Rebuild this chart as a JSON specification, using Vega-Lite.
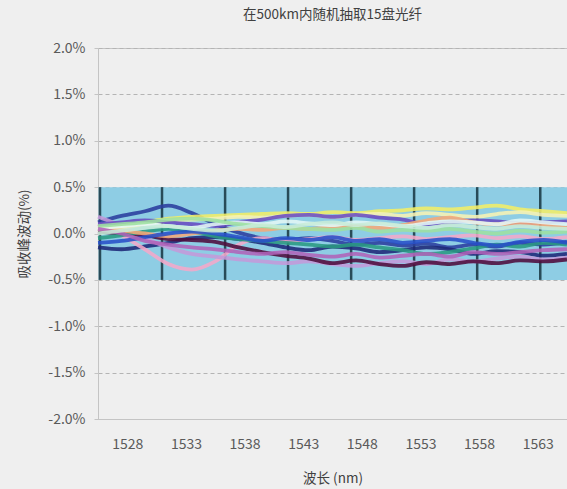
{
  "$schema": "https://vega.github.io/schema/vega-lite/v6.json",
  "autosize": "none",
  "padding": {"left": 98, "top": 48, "right": 0, "bottom": 70},
  "width": 469,
  "height": 371,
  "background": "#efefef",
  "title": {"text": "在500km内随机抽取15盘光纤", "fontSize": 13.5, "font": "Noto Sans CJK SC", "fontWeight": "normal", "color": "#404040", "anchor": "middle", "offset": 20},
  "config": {
    "font": "Noto Sans CJK SC",
    "view": {"stroke": "#c4c4c4", "strokeWidth": 1},
    "axis": {"labelFont": "Noto Sans CJK SC", "titleFont": "Noto Sans CJK SC", "labelColor": "#5a5a5a", "titleColor": "#404040", "labelFontSize": 14, "titleFontSize": 13.5, "titleFontWeight": "normal", "domainColor": "#c4c4c4", "tickColor": "#c4c4c4"}
  },
  "datasets": {
    "fibers": [
      {"s":"S1","x":1525.5,"y":0.12},{"s":"S1","x":1527.5,"y":0.19},{"s":"S1","x":1529.5,"y":0.24},{"s":"S1","x":1531.5,"y":0.30},{"s":"S1","x":1533.5,"y":0.22},{"s":"S1","x":1535.5,"y":0.10},{"s":"S1","x":1537.5,"y":0.01},{"s":"S1","x":1539.5,"y":-0.05},{"s":"S1","x":1541.5,"y":-0.07},{"s":"S1","x":1543.5,"y":-0.05},{"s":"S1","x":1545.5,"y":-0.08},{"s":"S1","x":1547.5,"y":-0.12},{"s":"S1","x":1549.5,"y":-0.10},{"s":"S1","x":1551.5,"y":-0.13},{"s":"S1","x":1553.5,"y":-0.11},{"s":"S1","x":1555.5,"y":-0.15},{"s":"S1","x":1557.5,"y":-0.12},{"s":"S1","x":1559.5,"y":-0.14},{"s":"S1","x":1561.5,"y":-0.10},{"s":"S1","x":1563.5,"y":-0.12},{"s":"S1","x":1565.5,"y":-0.09},
      {"s":"S2","x":1525.5,"y":-0.15},{"s":"S2","x":1527.5,"y":-0.17},{"s":"S2","x":1529.5,"y":-0.14},{"s":"S2","x":1531.5,"y":-0.10},{"s":"S2","x":1533.5,"y":-0.05},{"s":"S2","x":1535.5,"y":-0.04},{"s":"S2","x":1537.5,"y":-0.06},{"s":"S2","x":1539.5,"y":-0.10},{"s":"S2","x":1541.5,"y":-0.15},{"s":"S2","x":1543.5,"y":-0.18},{"s":"S2","x":1545.5,"y":-0.14},{"s":"S2","x":1547.5,"y":-0.16},{"s":"S2","x":1549.5,"y":-0.20},{"s":"S2","x":1551.5,"y":-0.18},{"s":"S2","x":1553.5,"y":-0.15},{"s":"S2","x":1555.5,"y":-0.17},{"s":"S2","x":1557.5,"y":-0.22},{"s":"S2","x":1559.5,"y":-0.19},{"s":"S2","x":1561.5,"y":-0.20},{"s":"S2","x":1563.5,"y":-0.24},{"s":"S2","x":1565.5,"y":-0.22},
      {"s":"S3","x":1525.5,"y":0.10},{"s":"S3","x":1527.5,"y":-0.02},{"s":"S3","x":1529.5,"y":-0.17},{"s":"S3","x":1531.5,"y":-0.33},{"s":"S3","x":1533.5,"y":-0.39},{"s":"S3","x":1535.5,"y":-0.30},{"s":"S3","x":1537.5,"y":-0.12},{"s":"S3","x":1539.5,"y":-0.05},{"s":"S3","x":1541.5,"y":-0.08},{"s":"S3","x":1543.5,"y":-0.06},{"s":"S3","x":1545.5,"y":-0.04},{"s":"S3","x":1547.5,"y":-0.07},{"s":"S3","x":1549.5,"y":-0.05},{"s":"S3","x":1551.5,"y":-0.03},{"s":"S3","x":1553.5,"y":-0.06},{"s":"S3","x":1555.5,"y":-0.04},{"s":"S3","x":1557.5,"y":-0.02},{"s":"S3","x":1559.5,"y":-0.05},{"s":"S3","x":1561.5,"y":-0.03},{"s":"S3","x":1563.5,"y":-0.06},{"s":"S3","x":1565.5,"y":-0.04},
      {"s":"S4","x":1525.5,"y":0.18},{"s":"S4","x":1527.5,"y":0.08},{"s":"S4","x":1529.5,"y":-0.05},{"s":"S4","x":1531.5,"y":-0.15},{"s":"S4","x":1533.5,"y":-0.22},{"s":"S4","x":1535.5,"y":-0.25},{"s":"S4","x":1537.5,"y":-0.28},{"s":"S4","x":1539.5,"y":-0.30},{"s":"S4","x":1541.5,"y":-0.32},{"s":"S4","x":1543.5,"y":-0.30},{"s":"S4","x":1545.5,"y":-0.33},{"s":"S4","x":1547.5,"y":-0.35},{"s":"S4","x":1549.5,"y":-0.32},{"s":"S4","x":1551.5,"y":-0.30},{"s":"S4","x":1553.5,"y":-0.33},{"s":"S4","x":1555.5,"y":-0.28},{"s":"S4","x":1557.5,"y":-0.30},{"s":"S4","x":1559.5,"y":-0.27},{"s":"S4","x":1561.5,"y":-0.25},{"s":"S4","x":1563.5,"y":-0.28},{"s":"S4","x":1565.5,"y":-0.26},
      {"s":"S5","x":1525.5,"y":0.05},{"s":"S5","x":1527.5,"y":0.08},{"s":"S5","x":1529.5,"y":0.12},{"s":"S5","x":1531.5,"y":0.16},{"s":"S5","x":1533.5,"y":0.18},{"s":"S5","x":1535.5,"y":0.19},{"s":"S5","x":1537.5,"y":0.20},{"s":"S5","x":1539.5,"y":0.21},{"s":"S5","x":1541.5,"y":0.22},{"s":"S5","x":1543.5,"y":0.21},{"s":"S5","x":1545.5,"y":0.23},{"s":"S5","x":1547.5,"y":0.22},{"s":"S5","x":1549.5,"y":0.24},{"s":"S5","x":1551.5,"y":0.25},{"s":"S5","x":1553.5,"y":0.27},{"s":"S5","x":1555.5,"y":0.26},{"s":"S5","x":1557.5,"y":0.28},{"s":"S5","x":1559.5,"y":0.30},{"s":"S5","x":1561.5,"y":0.26},{"s":"S5","x":1563.5,"y":0.24},{"s":"S5","x":1565.5,"y":0.22},
      {"s":"S6","x":1525.5,"y":0.02},{"s":"S6","x":1527.5,"y":0.06},{"s":"S6","x":1529.5,"y":0.10},{"s":"S6","x":1531.5,"y":0.14},{"s":"S6","x":1533.5,"y":0.15},{"s":"S6","x":1535.5,"y":0.16},{"s":"S6","x":1537.5,"y":0.18},{"s":"S6","x":1539.5,"y":0.17},{"s":"S6","x":1541.5,"y":0.19},{"s":"S6","x":1543.5,"y":0.20},{"s":"S6","x":1545.5,"y":0.18},{"s":"S6","x":1547.5,"y":0.20},{"s":"S6","x":1549.5,"y":0.21},{"s":"S6","x":1551.5,"y":0.19},{"s":"S6","x":1553.5,"y":0.22},{"s":"S6","x":1555.5,"y":0.20},{"s":"S6","x":1557.5,"y":0.18},{"s":"S6","x":1559.5,"y":0.21},{"s":"S6","x":1561.5,"y":0.23},{"s":"S6","x":1563.5,"y":0.20},{"s":"S6","x":1565.5,"y":0.19},
      {"s":"S7","x":1525.5,"y":0.02},{"s":"S7","x":1527.5,"y":0.00},{"s":"S7","x":1529.5,"y":-0.02},{"s":"S7","x":1531.5,"y":-0.06},{"s":"S7","x":1533.5,"y":-0.07},{"s":"S7","x":1535.5,"y":-0.09},{"s":"S7","x":1537.5,"y":-0.15},{"s":"S7","x":1539.5,"y":-0.20},{"s":"S7","x":1541.5,"y":-0.24},{"s":"S7","x":1543.5,"y":-0.27},{"s":"S7","x":1545.5,"y":-0.32},{"s":"S7","x":1547.5,"y":-0.29},{"s":"S7","x":1549.5,"y":-0.33},{"s":"S7","x":1551.5,"y":-0.35},{"s":"S7","x":1553.5,"y":-0.31},{"s":"S7","x":1555.5,"y":-0.33},{"s":"S7","x":1557.5,"y":-0.30},{"s":"S7","x":1559.5,"y":-0.32},{"s":"S7","x":1561.5,"y":-0.29},{"s":"S7","x":1563.5,"y":-0.30},{"s":"S7","x":1565.5,"y":-0.28},
      {"s":"S8","x":1525.5,"y":-0.05},{"s":"S8","x":1527.5,"y":-0.02},{"s":"S8","x":1529.5,"y":0.02},{"s":"S8","x":1531.5,"y":0.05},{"s":"S8","x":1533.5,"y":0.02},{"s":"S8","x":1535.5,"y":-0.03},{"s":"S8","x":1537.5,"y":-0.06},{"s":"S8","x":1539.5,"y":-0.08},{"s":"S8","x":1541.5,"y":-0.10},{"s":"S8","x":1543.5,"y":-0.12},{"s":"S8","x":1545.5,"y":-0.14},{"s":"S8","x":1547.5,"y":-0.12},{"s":"S8","x":1549.5,"y":-0.15},{"s":"S8","x":1551.5,"y":-0.18},{"s":"S8","x":1553.5,"y":-0.22},{"s":"S8","x":1555.5,"y":-0.20},{"s":"S8","x":1557.5,"y":-0.16},{"s":"S8","x":1559.5,"y":-0.12},{"s":"S8","x":1561.5,"y":-0.14},{"s":"S8","x":1563.5,"y":-0.10},{"s":"S8","x":1565.5,"y":-0.12},
      {"s":"S9","x":1525.5,"y":0.10},{"s":"S9","x":1527.5,"y":0.12},{"s":"S9","x":1529.5,"y":0.14},{"s":"S9","x":1531.5,"y":0.12},{"s":"S9","x":1533.5,"y":0.10},{"s":"S9","x":1535.5,"y":0.08},{"s":"S9","x":1537.5,"y":0.12},{"s":"S9","x":1539.5,"y":0.15},{"s":"S9","x":1541.5,"y":0.19},{"s":"S9","x":1543.5,"y":0.20},{"s":"S9","x":1545.5,"y":0.18},{"s":"S9","x":1547.5,"y":0.20},{"s":"S9","x":1549.5,"y":0.17},{"s":"S9","x":1551.5,"y":0.15},{"s":"S9","x":1553.5,"y":0.10},{"s":"S9","x":1555.5,"y":0.12},{"s":"S9","x":1557.5,"y":0.14},{"s":"S9","x":1559.5,"y":0.13},{"s":"S9","x":1561.5,"y":0.11},{"s":"S9","x":1563.5,"y":0.12},{"s":"S9","x":1565.5,"y":0.13},
      {"s":"S10","x":1525.5,"y":0.05},{"s":"S10","x":1527.5,"y":0.03},{"s":"S10","x":1529.5,"y":0.00},{"s":"S10","x":1531.5,"y":-0.03},{"s":"S10","x":1533.5,"y":0.00},{"s":"S10","x":1535.5,"y":0.03},{"s":"S10","x":1537.5,"y":0.05},{"s":"S10","x":1539.5,"y":0.04},{"s":"S10","x":1541.5,"y":0.06},{"s":"S10","x":1543.5,"y":0.05},{"s":"S10","x":1545.5,"y":0.07},{"s":"S10","x":1547.5,"y":0.08},{"s":"S10","x":1549.5,"y":0.06},{"s":"S10","x":1551.5,"y":0.09},{"s":"S10","x":1553.5,"y":0.14},{"s":"S10","x":1555.5,"y":0.17},{"s":"S10","x":1557.5,"y":0.12},{"s":"S10","x":1559.5,"y":0.10},{"s":"S10","x":1561.5,"y":0.11},{"s":"S10","x":1563.5,"y":0.09},{"s":"S10","x":1565.5,"y":0.06},
      {"s":"S11","x":1525.5,"y":0.05},{"s":"S11","x":1527.5,"y":0.08},{"s":"S11","x":1529.5,"y":0.10},{"s":"S11","x":1531.5,"y":0.08},{"s":"S11","x":1533.5,"y":0.06},{"s":"S11","x":1535.5,"y":0.10},{"s":"S11","x":1537.5,"y":0.12},{"s":"S11","x":1539.5,"y":0.10},{"s":"S11","x":1541.5,"y":0.13},{"s":"S11","x":1543.5,"y":0.11},{"s":"S11","x":1545.5,"y":0.09},{"s":"S11","x":1547.5,"y":0.12},{"s":"S11","x":1549.5,"y":0.10},{"s":"S11","x":1551.5,"y":0.08},{"s":"S11","x":1553.5,"y":0.11},{"s":"S11","x":1555.5,"y":0.13},{"s":"S11","x":1557.5,"y":0.12},{"s":"S11","x":1559.5,"y":0.10},{"s":"S11","x":1561.5,"y":0.14},{"s":"S11","x":1563.5,"y":0.12},{"s":"S11","x":1565.5,"y":0.10},
      {"s":"S12","x":1525.5,"y":-0.10},{"s":"S12","x":1527.5,"y":-0.08},{"s":"S12","x":1529.5,"y":-0.04},{"s":"S12","x":1531.5,"y":0.00},{"s":"S12","x":1533.5,"y":0.02},{"s":"S12","x":1535.5,"y":0.00},{"s":"S12","x":1537.5,"y":-0.04},{"s":"S12","x":1539.5,"y":-0.08},{"s":"S12","x":1541.5,"y":-0.05},{"s":"S12","x":1543.5,"y":-0.07},{"s":"S12","x":1545.5,"y":-0.04},{"s":"S12","x":1547.5,"y":-0.08},{"s":"S12","x":1549.5,"y":-0.06},{"s":"S12","x":1551.5,"y":-0.10},{"s":"S12","x":1553.5,"y":-0.08},{"s":"S12","x":1555.5,"y":-0.06},{"s":"S12","x":1557.5,"y":-0.10},{"s":"S12","x":1559.5,"y":-0.13},{"s":"S12","x":1561.5,"y":-0.09},{"s":"S12","x":1563.5,"y":-0.07},{"s":"S12","x":1565.5,"y":-0.10},
      {"s":"S13","x":1525.5,"y":0.08},{"s":"S13","x":1527.5,"y":0.10},{"s":"S13","x":1529.5,"y":0.12},{"s":"S13","x":1531.5,"y":0.15},{"s":"S13","x":1533.5,"y":0.16},{"s":"S13","x":1535.5,"y":0.14},{"s":"S13","x":1537.5,"y":0.10},{"s":"S13","x":1539.5,"y":0.08},{"s":"S13","x":1541.5,"y":0.06},{"s":"S13","x":1543.5,"y":0.05},{"s":"S13","x":1545.5,"y":0.04},{"s":"S13","x":1547.5,"y":0.06},{"s":"S13","x":1549.5,"y":0.02},{"s":"S13","x":1551.5,"y":0.04},{"s":"S13","x":1553.5,"y":0.03},{"s":"S13","x":1555.5,"y":0.05},{"s":"S13","x":1557.5,"y":0.02},{"s":"S13","x":1559.5,"y":0.00},{"s":"S13","x":1561.5,"y":0.03},{"s":"S13","x":1563.5,"y":0.01},{"s":"S13","x":1565.5,"y":0.02},
      {"s":"S14","x":1525.5,"y":0.05},{"s":"S14","x":1527.5,"y":0.00},{"s":"S14","x":1529.5,"y":-0.08},{"s":"S14","x":1531.5,"y":-0.12},{"s":"S14","x":1533.5,"y":-0.15},{"s":"S14","x":1535.5,"y":-0.17},{"s":"S14","x":1537.5,"y":-0.20},{"s":"S14","x":1539.5,"y":-0.22},{"s":"S14","x":1541.5,"y":-0.20},{"s":"S14","x":1543.5,"y":-0.23},{"s":"S14","x":1545.5,"y":-0.25},{"s":"S14","x":1547.5,"y":-0.22},{"s":"S14","x":1549.5,"y":-0.26},{"s":"S14","x":1551.5,"y":-0.24},{"s":"S14","x":1553.5,"y":-0.22},{"s":"S14","x":1555.5,"y":-0.25},{"s":"S14","x":1557.5,"y":-0.20},{"s":"S14","x":1559.5,"y":-0.22},{"s":"S14","x":1561.5,"y":-0.20},{"s":"S14","x":1563.5,"y":-0.18},{"s":"S14","x":1565.5,"y":-0.17},
      {"s":"S15","x":1525.5,"y":0.00},{"s":"S15","x":1527.5,"y":0.03},{"s":"S15","x":1529.5,"y":0.06},{"s":"S15","x":1531.5,"y":0.08},{"s":"S15","x":1533.5,"y":0.05},{"s":"S15","x":1535.5,"y":0.03},{"s":"S15","x":1537.5,"y":0.06},{"s":"S15","x":1539.5,"y":0.09},{"s":"S15","x":1541.5,"y":0.07},{"s":"S15","x":1543.5,"y":0.10},{"s":"S15","x":1545.5,"y":0.12},{"s":"S15","x":1547.5,"y":0.09},{"s":"S15","x":1549.5,"y":0.11},{"s":"S15","x":1551.5,"y":0.08},{"s":"S15","x":1553.5,"y":0.06},{"s":"S15","x":1555.5,"y":0.09},{"s":"S15","x":1557.5,"y":0.07},{"s":"S15","x":1559.5,"y":0.05},{"s":"S15","x":1561.5,"y":0.08},{"s":"S15","x":1563.5,"y":0.06},{"s":"S15","x":1565.5,"y":0.05}
    ]
  },
  "layer": [
    {
      "data": {"values": [{"a": 1525.55, "b": 1565.5, "lo": -0.5, "hi": 0.5}]},
      "mark": {"type": "rect", "color": "#8ecde4"},
      "encoding": {
        "x": {"field": "a", "type": "quantitative", "scale": {"domain": [1525.5, 1565.5], "nice": false, "zero": false},
          "axis": {"title": "波长 (nm)", "values": [1528, 1530.5, 1533, 1535.5, 1538, 1540.5, 1543, 1545.5, 1548, 1550.5, 1553, 1555.5, 1558, 1560.5, 1563], "format": "d", "labelExpr": "datum.value % 5 == 3 ? datum.label : ''", "labelOverlap": false, "labelFlush": false, "grid": false, "tickSize": 5, "tickOpacity": {"condition": {"test": "datum.value % 5 == 3", "value": 0}, "value": 1}, "labelPadding": 13, "titlePadding": 20}},
        "x2": {"field": "b"},
        "y": {"field": "lo", "type": "quantitative", "scale": {"domain": [-2, 2], "nice": false, "zero": false},
          "axis": {"title": "吸收峰波动(%)", "values": [-2, -1.5, -1, -0.5, 0, 0.5, 1, 1.5, 2], "labelExpr": "replace(format(datum.value, '.1f'), '−', '-') + '%'", "grid": true, "gridDash": [4, 3], "gridColor": "#b4b4b4", "tickSize": 4, "labelPadding": 9, "titlePadding": 16, "labelOverlap": false}},
        "y2": {"field": "hi"}
      }
    },
    {
      "data": {"values": [{"v": 1525.67}, {"v": 1530.96}, {"v": 1536.34}, {"v": 1541.71}, {"v": 1547.09}, {"v": 1552.46}, {"v": 1557.84}, {"v": 1563.22}]},
      "mark": {"type": "rule", "color": "#1d3d48", "strokeWidth": 2.5, "opacity": 0.9},
      "encoding": {"x": {"field": "v", "type": "quantitative"}, "y": {"datum": -0.5}, "y2": {"datum": 0.5}}
    },
    {
      "mark": {"type": "rule", "color": "#a8a8a8", "strokeDash": [4, 3], "strokeWidth": 1},
      "encoding": {"y": {"datum": 0.5}}
    },
    {
      "mark": {"type": "rule", "color": "#1d3d48", "strokeWidth": 2},
      "encoding": {"y": {"datum": -0.5}}
    },
    {
      "data": {"name": "fibers"},
      "mark": {"type": "line", "strokeWidth": 3.8, "interpolate": "monotone", "opacity": 0.88},
      "encoding": {
        "x": {"field": "x", "type": "quantitative"},
        "y": {"field": "y", "type": "quantitative"},
        "detail": {"field": "s"},
        "color": {"field": "s", "type": "nominal", "legend": null,
          "scale": {"domain": ["S1","S2","S3","S4","S5","S6","S7","S8","S9","S10","S11","S12","S13","S14","S15"],
            "range": ["#2b3e9e","#1e2878","#f4a9c9","#c49ad9","#f2ee66","#f7f3b4","#4e0c3c","#2a9a82","#6a4cc0","#f5a878","#e4f7f5","#2850c8","#9ee0a0","#b063b8","#c8ecd8"]}}
      }
    },
    {
      "mark": {"type": "rule", "color": "#23343a", "strokeDash": [7, 4], "strokeWidth": 1.8},
      "encoding": {"y": {"datum": 0}}
    }
  ]
}
